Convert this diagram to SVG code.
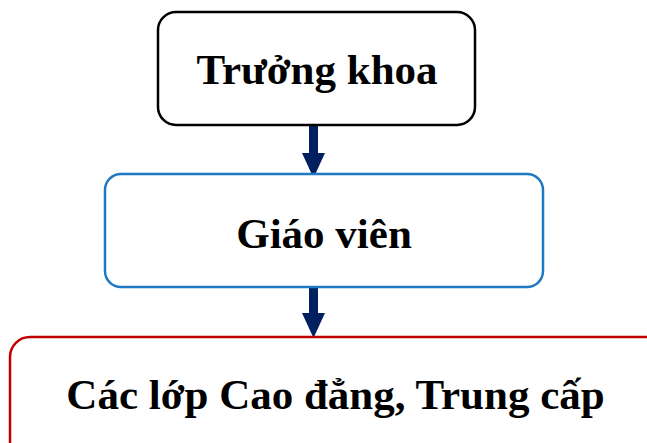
<svg xmlns="http://www.w3.org/2000/svg" width="647" height="443" viewBox="0 0 647 443">
<style>
.box{fill:#fff;stroke-width:2.5}
.t{font-family:"Liberation Serif","Times New Roman",serif;font-weight:bold;font-size:43px;fill:#000;text-anchor:middle}
.arr{fill:#002060}
</style>
<rect width="647" height="443" fill="#fff"/>
<g id="connectors">
<path class="arr" d="M309,126 H318 V153 H325 L313.5,178 L302,153 H309 Z"/>
<path class="arr" d="M309,288 H318 V313 H325 L313.5,338 L302,313 H309 Z"/>
</g>
<g id="truong-khoa">
<rect class="box" x="158" y="12" width="317" height="113" rx="18" stroke="#000"/>
<text class="t" x="317" y="84">Trưởng khoa</text>
</g>
<g id="giao-vien">
<rect class="box" x="105" y="174" width="438" height="113" rx="16" stroke="#1f78c4"/>
<text class="t" x="324" y="248">Giáo viên</text>
</g>
<g id="cac-lop">
<rect class="box" x="10" y="337" width="660" height="140" rx="20" stroke="#c00000"/>
<text class="t" x="335.5" y="409">Các lớp Cao đẳng, Trung cấp</text>
</g>
</svg>
